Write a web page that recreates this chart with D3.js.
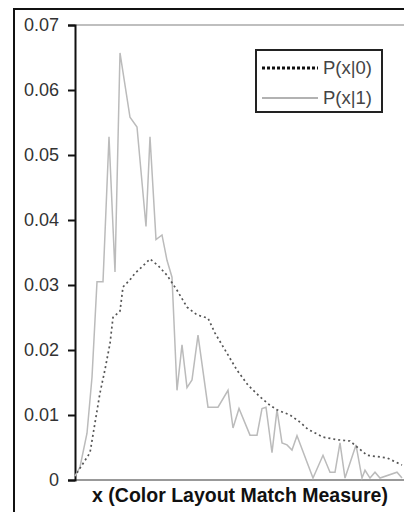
<!DOCTYPE html>
<html>
<head>
<meta charset="utf-8">
<script src="https://cdn.jsdelivr.net/npm/d3@7"></script>
<style>
  body { margin: 0; background: #fff; }
  svg { display: block; font-family: "Liberation Sans", Arial, sans-serif; }
</style>
</head>
<body>
<svg id="chart" width="404" height="512"></svg>
<script>
// y axis tick labels
var yTicks = [0, 0.01, 0.02, 0.03, 0.04, 0.05, 0.06, 0.07];
var yTickLabels = ["0", "0.01", "0.02", "0.03", "0.04", "0.05", "0.06", "0.07"];

// series names
var seriesNames = ["P(x|0)", "P(x|1)"];

// P(x|0) : x position (bin) and value
var p0X = [0.4, 3, 4, 5, 6, 7, 7.6, 9, 9.6, 11, 12, 13.4, 15, 16.6, 18.4, 20.4, 22.4, 24.4, 26.6, 28,
           30.4, 32.4, 34.6, 37, 39, 40.4, 43, 45, 46.6, 49.6, 52.4, 55, 58.4, 62.4, 65.4];
var p0Y = [0.0011, 0.0042, 0.0088, 0.0134, 0.017, 0.021, 0.025, 0.026, 0.0297, 0.0308, 0.0318, 0.0328,
           0.034, 0.033, 0.0315, 0.0292, 0.0266, 0.0254, 0.0249, 0.0226, 0.0195, 0.0169, 0.0146, 0.0128,
           0.0115, 0.0108, 0.01, 0.0089, 0.0078, 0.0066, 0.0062, 0.006, 0.0038, 0.0034, 0.0023];

// P(x|1)
var p1X = [0, 1, 2.4, 3.4, 4.4, 5.6, 6.8, 8, 9, 11, 12.4, 14.2, 15, 16.2, 17.4, 18.4, 19.4, 20.4, 21.4,
           22.4, 23.4, 24.6, 26.6, 28.6, 30.6, 31.6, 32.8, 35, 36.4, 37.4, 38.2, 39.4, 40.4, 41.4, 42.4,
           43.4, 44.4, 47.6, 49.6, 51, 52, 53, 54, 56.2, 57.4, 58, 59, 60, 61, 64.4, 65.4];
var p1Y = [0.0006, 0.002, 0.0072, 0.0158, 0.0305, 0.0305, 0.0528, 0.032, 0.0657, 0.0558, 0.0543, 0.039,
           0.0528, 0.037, 0.0377, 0.0338, 0.0312, 0.0138, 0.0208, 0.0142, 0.0154, 0.0223, 0.0112, 0.0112,
           0.0138, 0.008, 0.011, 0.0069, 0.0069, 0.011, 0.0112, 0.0042, 0.0108, 0.0057, 0.0054, 0.0046,
           0.0068, 0.0003, 0.0038, 0.0012, 0.0012, 0.0057, 0.0003, 0.0054, 0.0003, 0.0015, 0.0003, 0.0012,
           0.0003, 0.0012, 0.0003];

var svg = d3.select("#chart");

var plotL = 75, plotR = 405, plotT = 25, plotB = 480;

var x = d3.scaleLinear().domain([0, 66]).range([plotL, plotR]);
var y = d3.scaleLinear().domain([0, 0.07]).range([plotB, plotT]);

// outer frame
svg.append("rect")
    .attr("x", 14).attr("y", 9)
    .attr("width", 420).attr("height", 540)
    .attr("fill", "none")
    .attr("stroke", "#111")
    .attr("stroke-width", 2);

// plot border top + bottom (light gray)
svg.append("line")
    .attr("x1", plotL).attr("x2", plotR)
    .attr("y1", y(0.07)).attr("y2", y(0.07))
    .attr("stroke", "#aaa").attr("stroke-width", 1.5);
svg.append("line")
    .attr("x1", plotL).attr("x2", plotR)
    .attr("y1", y(0)).attr("y2", y(0))
    .attr("stroke", "#999").attr("stroke-width", 2);

// y axis
var yAxis = d3.axisLeft(y)
    .tickValues(yTicks)
    .tickSize(7)
    .tickPadding(9)
    .tickFormat(function(d, i) { return yTickLabels[i]; });

var gy = svg.append("g")
    .attr("transform", "translate(" + plotL + ",0)")
    .call(yAxis);
gy.select(".domain").attr("stroke", "#111").attr("stroke-width", 2);
gy.selectAll(".tick line").attr("stroke", "#111").attr("stroke-width", 2);
gy.selectAll("text")
    .attr("font-size", 18)
    .attr("font-family", "Liberation Sans, Arial, sans-serif")
    .attr("fill", "#333");

var line = d3.line()
    .x(function(d) { return x(d[0]); })
    .y(function(d) { return y(d[1]); });

// P(x|1) gray line
svg.append("path")
    .datum(d3.zip(p1X, p1Y))
    .attr("d", line)
    .attr("fill", "none")
    .attr("stroke", "#bbb")
    .attr("stroke-width", 1.5);

// P(x|0) dotted line
svg.append("path")
    .datum(d3.zip(p0X, p0Y))
    .attr("d", line)
    .attr("fill", "none")
    .attr("stroke", "#555")
    .attr("stroke-width", 1.7)
    .attr("stroke-dasharray", "2,3");

// x axis title
svg.append("text")
    .attr("x", 240).attr("y", 502)
    .attr("text-anchor", "middle")
    .attr("font-size", 19.5)
    .attr("font-weight", "bold")
    .attr("fill", "#111")
    .text("x (Color Layout Match Measure)");

// legend
var legend = svg.append("g");
legend.append("rect")
    .attr("x", 256).attr("y", 50)
    .attr("width", 126).attr("height", 62)
    .attr("fill", "#fff")
    .attr("stroke", "#222")
    .attr("stroke-width", 2);

legend.append("line")
    .attr("x1", 262).attr("x2", 318)
    .attr("y1", 68).attr("y2", 68)
    .attr("stroke", "#111")
    .attr("stroke-width", 3)
    .attr("stroke-dasharray", "3,2");
legend.append("line")
    .attr("x1", 262).attr("x2", 318)
    .attr("y1", 98).attr("y2", 98)
    .attr("stroke", "#999")
    .attr("stroke-width", 1.5);

legend.selectAll(".lab")
    .data(seriesNames)
    .enter().append("text")
    .attr("class", "lab")
    .attr("x", 323)
    .attr("y", function(d, i) { return 74 + i * 30; })
    .attr("font-size", 18.5)
    .attr("fill", "#444")
    .text(function(d) { return d; });
</script>
</body>
</html>
